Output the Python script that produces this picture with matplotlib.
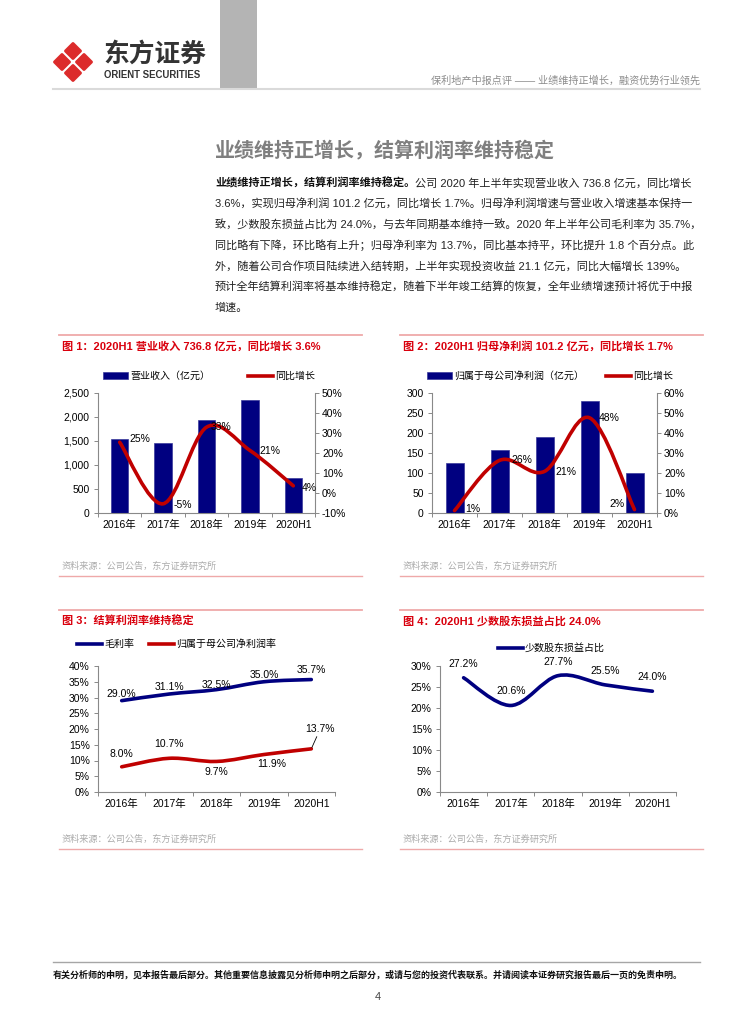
import numpy as np
import matplotlib
matplotlib.use("Agg")
import matplotlib.pyplot as plt
from matplotlib.path import Path
from matplotlib.patches import PathPatch, Patch, Polygon, Rectangle
from matplotlib.lines import Line2D
from matplotlib.ticker import FuncFormatter

plt.rcParams["font.family"] = ["Liberation Sans", "Noto Sans CJK SC", "DejaVu Sans"]

W, H = 755, 1024

# ---- data ----
years = ["2016年", "2017年", "2018年", "2019年", "2020H1"]
revenue = [1547.5, 1463.5, 1945.5, 2359.8, 736.8]
revenue_yoy = [25.4, -5.4, 32.9, 21.3, 3.6]
net_profit = [124.2, 156.8, 189.5, 279.6, 101.2]
net_profit_yoy = [1.2, 26.3, 20.8, 47.6, 1.7]
gross_margin = [29.0, 31.1, 32.5, 35.0, 35.7]
net_margin = [8.0, 10.7, 9.7, 11.9, 13.7]
minority_share = [27.2, 20.6, 27.7, 25.5, 24.0]

# ---- texts ----
header_text = "保利地产中报点评 —— 业绩维持正增长，融资优势行业领先"
section_title = "业绩维持正增长，结算利润率维持稳定"
lead_bold = "业绩维持正增长，结算利润率维持稳定。"
para_lines = [
    "公司 2020 年上半年实现营业收入 736.8 亿元，同比增长",
    "3.6%，实现归母净利润 101.2 亿元，同比增长 1.7%。归母净利润增速与营业收入增速基本保持一",
    "致，少数股东损益占比为 24.0%，与去年同期基本维持一致。2020 年上半年公司毛利率为 35.7%，",
    "同比略有下降，环比略有上升；归母净利率为 13.7%，同比基本持平，环比提升 1.8 个百分点。此",
    "外，随着公司合作项目陆续进入结转期，上半年实现投资收益 21.1 亿元，同比大幅增长 139%。",
    "预计全年结算利润率将基本维持稳定，随着下半年竣工结算的恢复，全年业绩增速预计将优于中报",
    "增速。",
]
fig_titles = [
    "图 1：2020H1 营业收入 736.8 亿元，同比增长 3.6%",
    "图 2：2020H1 归母净利润 101.2 亿元，同比增长 1.7%",
    "图 3：结算利润率维持稳定",
    "图 4：2020H1 少数股东损益占比 24.0%",
]
source_text = "资料来源：公司公告，东方证券研究所"
footer_text = ("有关分析师的申明，见本报告最后部分。其他重要信息披露见分析师申明之后部分，"
               "或请与您的投资代表联系。并请阅读本证券研究报告最后一页的免责申明。")

# colours
NAVY = "#000080"
RED = "#C00000"
GREY = "#898989"
TITLE_RED = "#D9000D"
PINK = "#EFA9A9"
LW = 2.6


def px_axes(fig, left, top, right, bottom):
    return fig.add_axes([left / W, 1 - bottom / H, (right - left) / W, (bottom - top) / H])


def smooth_line(ax, x, y, color, lw=LW):
    # Excel style smoothed line: Catmull-Rom segments as cubic Bezier curves
    pts = np.column_stack([x, y]).astype(float)
    n = len(pts)
    verts = [pts[0]]
    codes = [Path.MOVETO]
    for i in range(n - 1):
        p0 = pts[max(i - 1, 0)]
        p1 = pts[i]
        p2 = pts[i + 1]
        p3 = pts[min(i + 2, n - 1)]
        verts += [p1 + (p2 - p0) / 6, p2 - (p3 - p1) / 6, p2]
        codes += [Path.CURVE4] * 3
    ax.add_patch(PathPatch(Path(verts, codes), fill=False, edgecolor=color, lw=lw,
                           capstyle="round", joinstyle="round", zorder=3))


def style_axes(ax):
    n = len(years)
    ax.set_xlim(-0.5, n - 0.5)
    ax.set_xticks(range(n))
    ax.set_xticklabels(years)
    ax.set_xticks(np.arange(-0.5, n), minor=True)
    ax.tick_params(axis="x", which="major", length=0, labelsize=7.5, pad=5)
    ax.tick_params(axis="x", which="minor", length=3, width=0.7, color=GREY, direction="out")
    ax.tick_params(axis="y", length=3, width=0.7, color=GREY, labelsize=7.5, pad=3)
    for s in ["top", "right"]:
        ax.spines[s].set_visible(False)
    for s in ["left", "bottom"]:
        ax.spines[s].set_color(GREY)
        ax.spines[s].set_linewidth(0.8)
    ax.patch.set_visible(False)


def style_twin(ax2):
    for s in ["top", "left", "bottom"]:
        ax2.spines[s].set_visible(False)
    ax2.spines["right"].set_color(GREY)
    ax2.spines["right"].set_linewidth(0.8)
    ax2.tick_params(axis="y", length=3, width=0.7, color=GREY, labelsize=7.5, pad=2)
    ax2.yaxis.set_major_formatter(FuncFormatter(lambda v, p: f"{v:.0f}%"))


def labels(ax, vals, offsets, fmt):
    for i, (v, (dx, dy)) in enumerate(zip(vals, offsets)):
        ax.annotate(fmt.format(v), (i, v), xytext=(dx * 0.72, dy * 0.72),
                    textcoords="offset points", ha="center", va="center",
                    fontsize=7.5, zorder=4)


def legend(ax, handles, names, x, y, colspace):
    ax.legend(handles, names, loc="center left", bbox_to_anchor=(x / W, 1 - y / H),
              bbox_transform=fig.transFigure, ncol=len(handles), frameon=False,
              fontsize=7.2, handlelength=2.5, handletextpad=0.2,
              columnspacing=colspace, borderpad=0, borderaxespad=0)


fig = plt.figure(figsize=(W / 100, H / 100), dpi=100)

# ---- page decoration in pixel coordinates ----
page = fig.add_axes([0, 0, 1, 1])
page.set_xlim(0, W)
page.set_ylim(H, 0)
page.axis("off")

page.add_patch(Rectangle((220, 0), 37, 88, color="#B4B4B4", lw=0))
page.plot([53, 700], [89, 89], color="#DADADA", lw=1.5)

# logo: four rounded rhombi around a white cross
cx, cy, R = 73, 62, 22
for ox, oy in [(0, -R / 2), (0, R / 2), (-R / 2, 0), (R / 2, 0)]:
    h = R / 2 - 3.6
    page.add_patch(Polygon([(cx + ox, cy + oy - h), (cx + ox + h, cy + oy),
                            (cx + ox, cy + oy + h), (cx + ox - h, cy + oy)],
                           closed=True, facecolor="#DC2B2B", edgecolor="#DC2B2B",
                           lw=2.2, joinstyle="round"))
page.text(103, 54, "东方证券", fontsize=18.5, fontweight="bold", color="#333333",
          va="center", ha="left")
page.text(104, 75, "ORIENT SECURITIES", fontsize=6.9, fontweight="bold", color="#333333",
          va="center", ha="left")
page.text(700, 81, header_text, fontsize=7.3, color="#8C8C8C", va="center", ha="right")

# section title and paragraph
page.text(215, 150, section_title, fontsize=14.4, fontweight="bold", color="#7F7F7F",
          va="center", ha="left")
bold = page.text(215, 183, lead_bold, fontsize=8, fontweight="bold", color="#111111",
                 va="center", ha="left")
page.annotate(para_lines[0], xy=(1, 0.5), xycoords=bold, va="center", ha="left",
              fontsize=8, color="#222222")
for i, line in enumerate(para_lines[1:], start=1):
    page.text(215, 183 + i * 20.7, line, fontsize=8, color="#222222", va="center", ha="left")

# figure frames, titles, sources
for (x0, x1, ytop, ybot), title in zip(
        [(59, 362, 335, 576), (400, 703, 335, 576), (59, 362, 610, 849), (400, 703, 610, 849)],
        fig_titles):
    page.plot([x0, x1], [ytop, ytop], color=PINK, lw=1.3)
    page.plot([x0, x1], [ybot, ybot], color=PINK, lw=1.0)
    page.text(x0 + 3, ytop + 11, title, fontsize=8, fontweight="bold", color=TITLE_RED,
              va="center", ha="left")
    page.text(x0 + 3, ybot - 10, source_text, fontsize=6.6, color="#ABABAB",
              va="center", ha="left")

# footer
page.plot([53, 700], [962, 962], color="#A6A6A6", lw=1.0)
page.text(53, 975, footer_text, fontsize=6.5, fontweight="bold", color="#111111",
          va="center", ha="left")
page.text(378, 997, "4", fontsize=8, color="#444444", va="center", ha="center")

x = np.arange(len(years))

# ---- chart 1: revenue ----
ax1 = px_axes(fig, 98, 393, 315, 513)
style_axes(ax1)
ax1.bar(x, revenue, width=0.4, color=NAVY, edgecolor="#3A3A9A", lw=0.5, zorder=2)
ax1.set_ylim(0, 2500)
ax1.set_yticks(range(0, 2501, 500))
ax1.yaxis.set_major_formatter(FuncFormatter(lambda v, p: f"{v:,.0f}"))
ax1b = ax1.twinx()
style_twin(ax1b)
ax1b.set_ylim(-10, 50)
ax1b.set_yticks(range(-10, 51, 10))
smooth_line(ax1b, x, revenue_yoy, RED)
labels(ax1b, revenue_yoy, [(20, 3), (20, -1), (15, 0), (20, -1), (16, -2)], "{:.0f}%")
legend(ax1b, [Patch(facecolor=NAVY, edgecolor="#3A3A9A", lw=0.5), Line2D([], [], color=RED, lw=LW)],
       ["营业收入（亿元）", "同比增长"], 103, 376, 3.8)

# ---- chart 2: net profit ----
ax2 = px_axes(fig, 432, 393, 657, 513)
style_axes(ax2)
ax2.bar(x, net_profit, width=0.4, color=NAVY, edgecolor="#3A3A9A", lw=0.5, zorder=2)
ax2.set_ylim(0, 300)
ax2.set_yticks(range(0, 301, 50))
ax2b = ax2.twinx()
style_twin(ax2b)
ax2b.set_ylim(0, 60)
ax2b.set_yticks(range(0, 61, 10))
smooth_line(ax2b, x, net_profit_yoy, RED)
labels(ax2b, net_profit_yoy, [(18, 2), (22, 0), (21, -1), (20, 0), (-18, 6)], "{:.0f}%")
legend(ax2b, [Patch(facecolor=NAVY, edgecolor="#3A3A9A", lw=0.5), Line2D([], [], color=RED, lw=LW)],
       ["归属于母公司净利润（亿元）", "同比增长"], 427, 376, 2.2)

# ---- chart 3: margins ----
ax3 = px_axes(fig, 98, 666, 335, 792)
style_axes(ax3)
ax3.set_ylim(0, 40)
ax3.set_yticks(range(0, 41, 5))
ax3.yaxis.set_major_formatter(FuncFormatter(lambda v, p: f"{v:.0f}%"))
smooth_line(ax3, x, gross_margin, NAVY)
smooth_line(ax3, x, net_margin, RED)
labels(ax3, gross_margin, [(0, 7), (0, 7), (0, 5), (0, 7), (0, 10)], "{:.1f}%")
labels(ax3, net_margin[:4], [(0, 13), (0, 14), (0, -11), (8, -9)], "{:.1f}%")
ax3.annotate(f"{net_margin[4]:.1f}%", (4, net_margin[4]), xytext=(9 * 0.72, 15 * 0.72),
             textcoords="offset points", ha="center", va="bottom", fontsize=7.5,
             arrowprops=dict(arrowstyle="-", color="black", lw=0.6, shrinkA=0, shrinkB=1))
legend(ax3, [Line2D([], [], color=NAVY, lw=LW), Line2D([], [], color=RED, lw=LW)],
       ["毛利率", "归属于母公司净利润率"], 77, 644, 1.5)

# ---- chart 4: minority share ----
ax4 = px_axes(fig, 440, 666, 676, 792)
style_axes(ax4)
ax4.set_ylim(0, 30)
ax4.set_yticks(range(0, 31, 5))
ax4.yaxis.set_major_formatter(FuncFormatter(lambda v, p: f"{v:.0f}%"))
smooth_line(ax4, x, minority_share, NAVY)
labels(ax4, minority_share, [(0, 14)] * 5, "{:.1f}%")
legend(ax4, [Line2D([], [], color=NAVY, lw=LW)], ["少数股东损益占比"], 498, 648, 1.5)

fig.savefig("out.png", dpi=100)
